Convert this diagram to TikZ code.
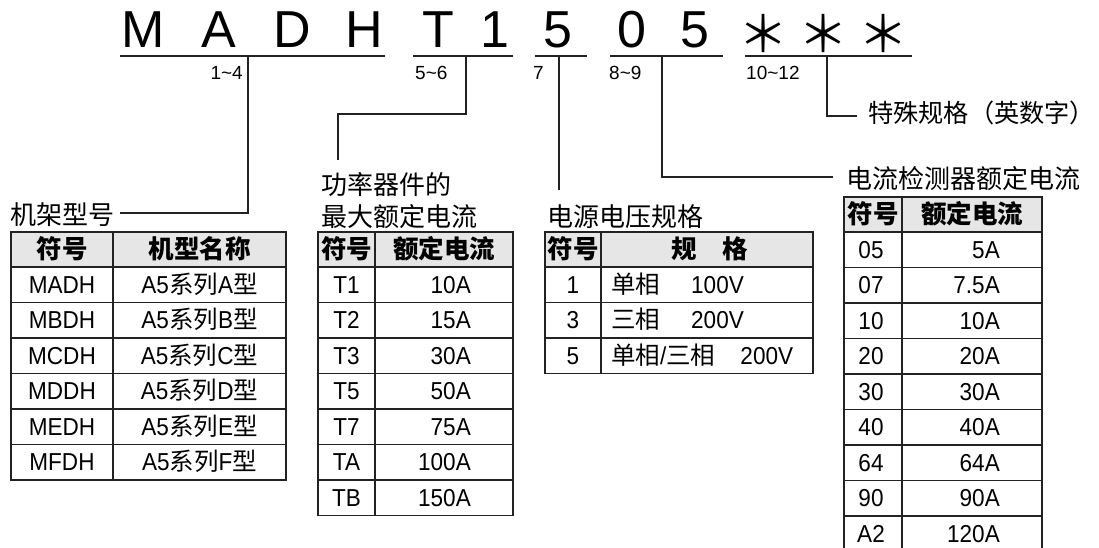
\documentclass[tikz,border=0pt]{standalone}
\usepackage{fontspec}
\setmainfont{Liberation Sans}
\newfontfamily\cjk{Noto Sans CJK SC}
\newfontfamily\lat[FakeStretch=0.92]{Liberation Sans}
\newcommand\C[1]{{\cjk #1}}
\definecolor{hdr}{HTML}{E6E6E6}
\definecolor{ln}{HTML}{222222}
\tikzset{
  big/.style={font=\fontsize{52}{60}\selectfont, anchor=base, inner sep=0pt},
  astx/.style={font=\cjk\fontsize{50}{60}\selectfont, anchor=base, inner sep=0pt},
  idx/.style={font=\fontsize{19}{22}\selectfont, anchor=base west, inner sep=0pt},
  lab/.style={font=\cjk\fontsize{26}{30}\selectfont, anchor=base west, inner sep=0pt},
  conn/.style={draw=ln, line width=1.3pt},
  uline/.style={draw=ln, line width=1.3pt},
  tbl/.style={draw=ln, line width=1.4pt},
  cell/.style={font=\lat\fontsize{24.5}{28}\selectfont, inner sep=0pt, text height=17pt, text depth=0pt},
  hcell/.style={font=\cjk\bfseries\fontsize{25.5}{28}\selectfont, inner sep=0pt, text height=17pt, text depth=0pt},
}
\begin{document}
\begin{tikzpicture}[x=1pt,y=-1pt]
\useasboundingbox (0,0) rectangle (1099,548);
\clip (0,0) rectangle (1099,548);
\fill[white] (0,0) rectangle (1099,548);

% ---------- model code ----------
\foreach \ch/\x [count=\i] in {M/143,A/219,D/292,H/364,T/438,1/495,5/558,0/632,5/695}
  \node[big] (ch\i) at (\x,48) {\ch};
\node[astx] (ch10) at (763,53) {＊};
\node[astx] (ch11) at (823,53) {＊};
\node[astx] (ch12) at (883,53) {＊};

% underlines
\coordinate (u1a) at (120,56); \coordinate (u1b) at (385,56);
\coordinate (u2a) at (413,56); \coordinate (u2b) at (513,56);
\coordinate (u3a) at (535,56); \coordinate (u3b) at (587,56);
\coordinate (u4a) at (610,56); \coordinate (u4b) at (723,56);
\coordinate (u5a) at (745,56); \coordinate (u5b) at (912,56);
\draw[uline] (u1a) -- (u1b);
\draw[uline] (u2a) -- (u2b);
\draw[uline] (u3a) -- (u3b);
\draw[uline] (u4a) -- (u4b);
\draw[uline] (u5a) -- (u5b);

% position labels
\node[idx, anchor=base east] (p1) at (243,79.5) {1\~{}4};
\node[idx] (p2) at (415,79.5) {5\~{}6};
\node[idx] (p3) at (533,79.5) {7};
\node[idx] (p4) at (609,79.5) {8\~{}9};
\node[idx] (p5) at (746,79.5) {10\~{}12};

% connector taps
\coordinate (s1) at (248,56);
\coordinate (s2) at (466,56);
\coordinate (s3) at (559,56);
\coordinate (s4) at (662,56);
\coordinate (s5) at (827,56);

% labels
\node[lab, anchor=base east] (L1) at (115,224) {机架型号};
\node[lab] (L2a) at (321,194) {功率器件的};
\node[lab] (L2b) at (321,226) {最大额定电流};
\node[lab] (L3) at (547,226) {电源电压规格};
\node[lab] (L4) at (846,189) {电流检测器额定电流};
\node[lab, font=\cjk\fontsize{25.2}{30}\selectfont] (L5) at (868,123) {特殊规格（英数字）};

\coordinate (e1) at (120,213);
\coordinate (e2) at (338,160);
\coordinate (e3) at (559,190);
\coordinate (e4) at (833,177);
\coordinate (e5) at (857,116);

\draw[conn] (s1) |- (e1);
\draw[conn] (s2) -- (466,114) -| (e2);
\draw[conn] (s3) -- (e3);
\draw[conn] (s4) |- (e4);
\draw[conn] (s5) |- (e5);

% ---------- table 1 ----------
\fill[hdr] (11,232) rectangle (286,267);
\draw[tbl] (11,232) rectangle (286,480);
\draw[tbl] (113,232) -- (113,480);
\foreach \k in {0,...,5} \draw[tbl] (11,{267+\k*35.5}) -- (286,{267+\k*35.5});
\node[hcell] (t1h1) at (62,249.5) {符号};
\node[hcell] (t1h2) at (199.5,249.5) {机型名称};
\foreach \s/\n [count=\i] in {MADH/A,MBDH/B,MCDH/C,MDDH/D,MEDH/E,MFDH/F}{
  \node[cell] (t1a\i) at (62,{267+(\i-0.5)*35.5}) {\s};
  \node[cell] (t1b\i) at (199.5,{267+(\i-0.5)*35.5}) {A5\C{系列}\n\C{型}};
}

% ---------- table 2 ----------
\fill[hdr] (318,232) rectangle (513,267);
\draw[tbl] (318,232) rectangle (513,515.5);
\draw[tbl] (375,232) -- (375,515.5);
\foreach \k in {0,...,6} \draw[tbl] (318,{267+\k*35.5}) -- (513,{267+\k*35.5});
\node[hcell] (t2h1) at (346.5,249.5) {符号};
\node[hcell] (t2h2) at (444,249.5) {额定电流};
\foreach \s/\v [count=\i] in {T1/10A,T2/15A,T3/30A,T5/50A,T7/75A,TA/100A,TB/150A}{
  \node[cell] (t2a\i) at (346.5,{267+(\i-0.5)*35.5}) {\s};
  \node[cell, anchor=east] (t2b\i) at (471,{267+(\i-0.5)*35.5}) {\v};
}

% ---------- table 3 ----------
\fill[hdr] (545,232) rectangle (813,267);
\draw[tbl] (545,232) rectangle (813,373.5);
\draw[tbl] (601,232) -- (601,373.5);
\foreach \k in {0,...,2} \draw[tbl] (545,{267+\k*35.5}) -- (813,{267+\k*35.5});
\node[hcell] (t3h1) at (573,249.5) {符号};
\node[hcell] (t3h2) at (710,249.5) {规　格};
\node[cell] (t3a1) at (573,284.75) {1};
\node[cell] (t3a2) at (573,320.25) {3};
\node[cell] (t3a3) at (573,355.75) {5};
\node[cell, anchor=west] (t3b1) at (611,284.75) {\C{单相}\hspace{31pt}100V};
\node[cell, anchor=west] (t3b2) at (611,320.25) {\C{三相}\hspace{31pt}200V};
\node[cell, anchor=west] (t3b3) at (611,355.75) {\C{单相}/\C{三相}\hspace{25pt}200V};

% ---------- table 4 ----------
\fill[hdr] (844,197) rectangle (1042,232);
\draw[tbl] (844,197) rectangle (1042,551.5);
\draw[tbl] (902,197) -- (902,551.5);
\foreach \k in {0,...,8} \draw[tbl] (844,{232+\k*35.5}) -- (1042,{232+\k*35.5});
\node[hcell] (t4h1) at (873,214.5) {符号};
\node[hcell] (t4h2) at (972,214.5) {额定电流};
\foreach \s/\v [count=\i] in {05/5A,07/7.5A,10/10A,20/20A,30/30A,40/40A,64/64A,90/90A,A2/120A}{
  \node[cell] (t4a\i) at (871,{232+(\i-0.5)*35.5}) {\s};
  \node[cell, anchor=east] (t4b\i) at (1000,{232+(\i-0.5)*35.5}) {\v};
}
\end{tikzpicture}
\end{document}
